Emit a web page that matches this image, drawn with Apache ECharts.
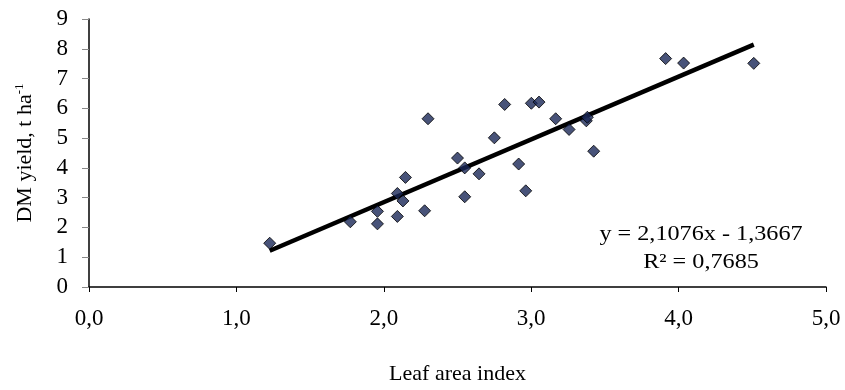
<!DOCTYPE html>
<html>
<head>
<meta charset="utf-8">
<script src="https://cdn.jsdelivr.net/npm/echarts@6/dist/echarts.min.js"></script>
<style>html,body{margin:0;padding:0;background:#fff}#c{width:845px;height:390px}</style>
</head>
<body>
<div id="c"></div>
<script>
const laiValues = [1.226, 1.773, 1.957, 1.957, 2.092, 2.092, 2.13, 2.147, 2.277, 2.30, 2.50, 2.549, 2.549, 2.646, 2.75, 2.82, 2.915, 2.963, 3.001, 3.053, 3.166, 3.257, 3.374, 3.381, 3.424, 3.912, 4.034, 4.51];
const yieldValues = [1.47, 2.19, 2.54, 2.12, 2.37, 3.14, 2.89, 3.68, 2.56, 5.65, 4.33, 3.03, 4.00, 3.80, 5.01, 6.13, 4.13, 3.23, 6.17, 6.21, 5.65, 5.29, 5.58, 5.70, 4.56, 7.67, 7.52, 7.51];
const trendSlope = 2.1076;
const trendIntercept = -1.3667;
const rSquared = 0.7685;
const xTicks = [0, 1, 2, 3, 4, 5];
const yTicks = [0, 1, 2, 3, 4, 5, 6, 7, 8, 9];

const fmt = (v, d) => v.toFixed(d).replace('.', ',');
const points = laiValues.map((x, i) => [x, yieldValues[i]]);
const xMinData = Math.min(...laiValues), xMaxData = Math.max(...laiValues);
const trend = [xMinData, xMaxData].map(x => [x, trendSlope * x + trendIntercept]);
const font = 'Liberation Serif';

const chart = echarts.init(document.getElementById('c'));
chart.setOption({
  animation: false,
  backgroundColor: '#fff',
  textStyle: { fontFamily: font },
  grid: { left: 89, right: 19, top: 19, bottom: 98 },
  xAxis: {
    type: 'value', min: xTicks[0], max: xTicks[xTicks.length - 1], interval: 1,
    name: 'Leaf area index', nameLocation: 'middle', nameGap: 76,
    nameTextStyle: { fontFamily: font, fontSize: 22, color: '#000' },
    axisLine: { lineStyle: { color: '#000', width: 1.5 } },
    axisTick: { show: true, inside: false, length: 5, lineStyle: { color: '#000' } },
    axisLabel: { fontFamily: font, fontSize: 23, color: '#000', margin: 20, formatter: v => fmt(v, 1) },
    splitLine: { show: false }
  },
  yAxis: {
    type: 'value', min: yTicks[0], max: yTicks[yTicks.length - 1], interval: 1,
    name: '{a|DM yield, t ha}{b|-1}', nameLocation: 'middle', nameGap: 52, nameRotate: 90,
    nameTextStyle: {
      fontFamily: font, color: '#000',
      rich: {
        a: { fontFamily: font, fontSize: 22, color: '#000', lineHeight: 24 },
        b: { fontFamily: font, fontSize: 13, color: '#000', verticalAlign: 'top', lineHeight: 24, padding: [0, 0, 10, 0] }
      }
    },
    axisLine: { show: true, lineStyle: { color: '#000', width: 1.5 } },
    axisTick: { show: true, inside: false, length: 7, lineStyle: { color: '#888' } },
    axisLabel: { fontFamily: font, fontSize: 23, color: '#000', margin: 21 },
    splitLine: { show: false }
  },
  series: [
    {
      type: 'line', data: trend, showSymbol: false, symbol: 'none', z: 2,
      lineStyle: { color: '#000', width: 4.5 }
    },
    {
      type: 'scatter', data: points, symbol: 'diamond', symbolSize: 12, z: 3,
      itemStyle: { color: '#1a2858', borderColor: '#000', borderWidth: 1 }
    }
  ],
  graphic: [
    {
      type: 'text', x: 701, y: 220, scaleX: 1.1,
      style: {
        text: 'y = ' + fmt(trendSlope, 4) + 'x - ' + fmt(-trendIntercept, 4) + '\nR² = ' + fmt(rSquared, 4),
        font: '22px "Liberation Serif"', fill: '#000', align: 'center', lineHeight: 28
      }
    }
  ]
});
</script>
</body>
</html>
